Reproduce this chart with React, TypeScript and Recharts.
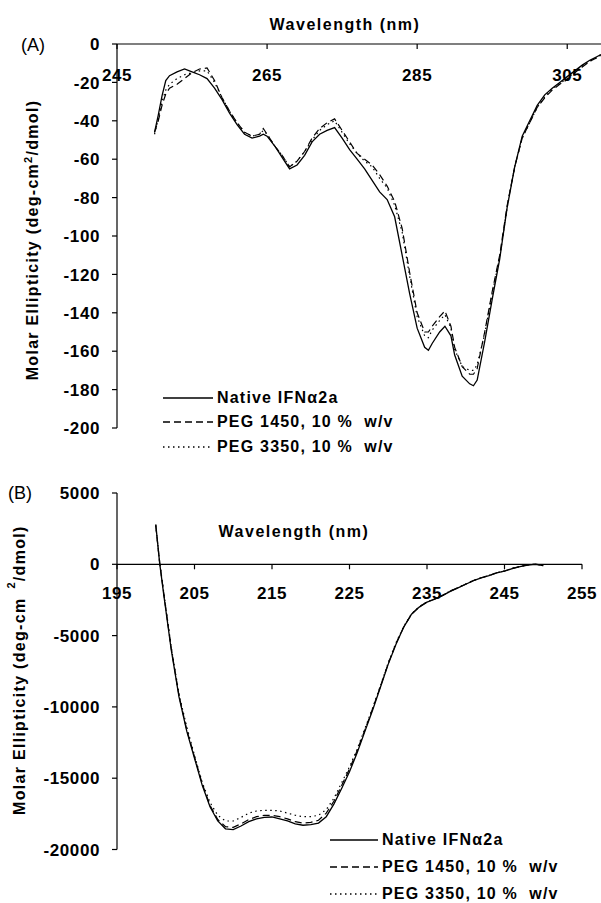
import { LineChart, Line, XAxis, YAxis, Legend, ReferenceLine, ReferenceDot, Label } from "recharts"

const FONT = '"Liberation Sans", Arial, Helvetica, sans-serif'

// (A) near-UV CD spectra
const waveA = [
  250, 250.5, 251, 251.5, 252, 253, 254, 255, 256, 257, 258, 259, 260, 261, 262, 263, 264, 264.5, 265,
  266, 267, 268, 269, 270, 271, 272, 273, 274, 275, 276, 277, 278, 279, 280, 281, 282, 283, 284, 285,
  286, 286.5, 287, 288, 288.7, 289.5, 290, 291, 292, 292.5, 293, 294, 295, 296, 297, 298, 299, 300,
  301, 302, 303, 304, 305, 306, 307, 308, 309, 309.5,
]
const nativeA = [
  -46, -37, -27, -19, -16.5, -14.5, -13, -14.5, -16, -18, -23, -29, -36, -42, -47, -49, -48, -47, -48,
  -53, -59, -65, -63, -58, -51, -47, -45, -43.5, -49, -55, -60, -65, -71, -77, -81, -90, -110, -130, -148,
  -158, -159.5, -156, -150, -147, -152, -162, -173, -177, -178, -175, -155, -133, -112, -85, -64, -48, -40,
  -32, -26.5, -23, -20, -17, -14, -11, -8.5, -6.5, -5.5,
]
const peg1450A = [
  -46, -40, -32, -26, -23, -21, -18, -15, -13, -12.5, -19, -28, -35, -41, -46, -48, -47, -44, -47,
  -53, -58, -64, -61, -56, -49, -44, -41, -39, -45, -51, -57, -60, -63, -68, -74, -82, -96, -119, -140,
  -150, -150, -147, -142, -139, -147, -158, -168, -172, -172, -169, -150, -129, -110, -84, -64, -49, -41,
  -33, -28, -24, -21, -18.5, -15, -12, -9, -7, -6,
]
const peg3350A = [
  -47, -39, -30, -24, -21, -18, -16, -15, -14, -14, -20, -28, -35, -41, -46, -48, -47, -45, -47,
  -53, -58, -64, -61, -56, -50, -45, -42, -40, -46, -52, -57, -61, -64, -70, -75, -84, -98, -121, -142,
  -152, -153, -149, -144, -141, -148, -159, -168, -170, -170, -167, -151, -130, -111, -85, -64, -49, -41,
  -33, -27.5, -23.5, -20.5, -18, -14.5, -11.5, -9, -7, -5.5,
]
const xTicksA = [245, 265, 285, 305]
const yTicksA = [0, -20, -40, -60, -80, -100, -120, -140, -160, -180, -200]

// (B) far-UV CD spectra
const waveB = [
  200, 200.5, 201, 202, 203, 204, 205, 206, 207, 208, 209, 210, 211, 212, 213, 214, 215, 216, 217, 218,
  219, 220, 221, 222, 223, 224, 225, 226, 227, 228, 229, 230, 231, 232, 233, 234, 235, 236, 237, 238,
  239, 240, 241, 242, 243, 244, 245, 246, 247, 248, 249, 250,
]
const nativeB = [
  2800, 100, -2000, -6000, -9300, -11700, -13600, -15500, -17000, -18000, -18550, -18600, -18350, -18050,
  -17850, -17750, -17720, -17850, -18000, -18200, -18300, -18250, -18150, -17700, -16800, -15700, -14550,
  -13200, -11700, -10200, -8600, -7000, -5600, -4400, -3500, -3000, -2650, -2450, -2200, -1900, -1650,
  -1400, -1150, -950, -800, -600, -480, -300, -170, -50, 0, -100,
]
const peg1450B = [
  2700, 150, -1900, -5900, -9200, -11600, -13500, -15400, -16900, -17900, -18400, -18450, -18200, -17900,
  -17700, -17600, -17600, -17700, -17850, -18050, -18150, -18100, -17950, -17450, -16600, -15500, -14350,
  -13050, -11600, -10100, -8550, -6950, -5550, -4400, -3500, -2980, -2640, -2430, -2180, -1880, -1640,
  -1390, -1140, -940, -790, -590, -470, -290, -160, -40, 20, -80,
]
const peg3350B = [
  2750, 200, -1850, -5800, -9100, -11400, -13400, -15300, -16700, -17600, -18000, -18000, -17750, -17450,
  -17300, -17250, -17250, -17300, -17450, -17600, -17700, -17700, -17600, -17200, -16400, -15300, -14200,
  -12950, -11500, -10050, -8500, -6900, -5500, -4350, -3480, -2970, -2630, -2420, -2170, -1870, -1630,
  -1380, -1130, -930, -780, -580, -460, -280, -150, -40, 10, -90,
]
const xTicksB = [195, 205, 215, 225, 235, 245, 255]
const yTicksB = [5000, 0, -5000, -10000, -15000, -20000]

const seriesNames = ["Native IFNα2a", "PEG 1450, 10 %  w/v", "PEG 3350, 10 %  w/v"]

const dataA = waveA.map((w, i) => ({ w, native: nativeA[i], peg1450: peg1450A[i], peg3350: peg3350A[i] }))
const dataB = waveB.map((w, i) => ({ w, native: nativeB[i], peg1450: peg1450B[i], peg3350: peg3350B[i] }))

const series = [
  { key: "native", name: seriesNames[0], dash: undefined },
  { key: "peg1450", name: seriesNames[1], dash: "7 4" },
  { key: "peg3350", name: seriesNames[2], dash: "1.5 3.5" },
]

const tickFont = { fontSize: 17, fontWeight: 700, fill: "#000", fontFamily: FONT, letterSpacing: 0.6 }
const textBold = { fontFamily: FONT, fontWeight: 700, fontSize: 16, letterSpacing: 1.3, fill: "#000" }

// bold tick labels (drawn by hand so the weight sticks)
function YTick(props: any) {
  const { x, y, payload } = props
  return (
    <text x={x} y={y} dy="0.36em" textAnchor="end" {...tickFont}>
      {payload.value}
    </text>
  )
}

function TopTick(props: any) {
  const { x, y, payload } = props
  return (
    <text x={x} y={y} dy="0.71em" textAnchor="middle" {...tickFont}>
      {payload.value}
    </text>
  )
}

function ZeroAxisTick(props: any) {
  const { cx, cy, value } = props
  return (
    <g>
      <line x1={cx} y1={cy} x2={cx} y2={cy + 5} stroke="#000" strokeWidth={1.2} />
      <text x={cx} y={cy + 35} textAnchor="middle" {...tickFont}>{value}</text>
    </g>
  )
}

function makeLegend(rowHeight: number, lineWidth: number) {
  return function LegendBox() {
    return (
      <div style={{ fontFamily: FONT, fontWeight: 700, fontSize: 16, letterSpacing: 1.2, color: "#000" }}>
        {series.map((s) => (
          <div key={s.key} style={{ display: "flex", alignItems: "center", height: rowHeight, whiteSpace: "pre" }}>
            <svg width={lineWidth} height={4} style={{ marginRight: 4 }}>
              <line x1={0} y1={2} x2={lineWidth} y2={2} stroke="#000" strokeWidth={1.3} strokeDasharray={s.dash} />
            </svg>
            <span>{s.name}</span>
          </div>
        ))}
      </div>
    )
  }
}

function TextsA() {
  return (
    <g>
      <text x={21} y={51} fontFamily={FONT} fontSize={18} fill="#000">(A)</text>
      <text x={345} y={30} textAnchor="middle" {...textBold} letterSpacing={1.5}>Wavelength (nm)</text>
      <text transform="translate(0,240) rotate(-90)" x={0} y={38} textAnchor="middle" {...textBold}>
        Molar Ellipticity (deg-cm<tspan dy={-6} fontSize={11}>2</tspan>
        <tspan dy={6}>/dmol)</tspan>
      </text>
    </g>
  )
}

function TextsB() {
  return (
    <g>
      <text x={8} y={29} fontFamily={FONT} fontSize={18} fill="#000">(B)</text>
      <text x={294} y={67} textAnchor="middle" {...textBold} letterSpacing={1.5}>Wavelength (nm)</text>
      <text transform="translate(0,345) rotate(-90)" x={0} y={25} textAnchor="start" {...textBold}>
        Molar Ellipticity (deg-cm<tspan dx={9} dy={-10} fontSize={11}>2</tspan>
        <tspan dy={10}>/dmol)</tspan>
      </text>
    </g>
  )
}

const LegendA = makeLegend(24.5, 50)
const LegendB = makeLegend(27, 48)

export default function App() {
  return (
    <div style={{ position: "absolute", left: 0, top: 0, width: 601, height: 903, background: "#fff" }}>
      <div style={{ position: "absolute", left: 0, top: 0 }}>
        <LineChart width={601} height={470} data={dataA} margin={{ top: 44, right: 0, bottom: 42, left: 0 }}>
          <XAxis
            dataKey="w"
            type="number"
            orientation="top"
            mirror
            domain={[245, 309.5]}
            ticks={xTicksA}
            interval={0}
            allowDataOverflow
            tickSize={5}
            tickMargin={20}
            tick={<TopTick />}
            axisLine={{ stroke: "#000", strokeWidth: 1.2 }}
            tickLine={{ stroke: "#000", strokeWidth: 1.2 }}
          />
          <YAxis
            type="number"
            domain={[-200, 0]}
            ticks={yTicksA}
            interval={0}
            allowDataOverflow
            width={117}
            tickSize={5}
            tickMargin={12}
            tick={<YTick />}
            axisLine={{ stroke: "#000", strokeWidth: 1.2 }}
            tickLine={{ stroke: "#000", strokeWidth: 1.2 }}
          >
            <Label content={() => <TextsA />} />
          </YAxis>
          {series.map((s) => (
            <Line
              key={s.key}
              dataKey={s.key}
              name={s.name}
              type="linear"
              stroke="#000"
              strokeWidth={s.dash ? 1.2 : 1.3}
              strokeDasharray={s.dash}
              dot={false}
              activeDot={false}
              isAnimationActive={false}
            />
          ))}
          <Legend
            layout="vertical"
            align="center"
            verticalAlign="middle"
            content={() => <LegendA />}
            wrapperStyle={{ left: 163, top: 385.5, width: 320 }}
          />
        </LineChart>
      </div>
      <div style={{ position: "absolute", left: 0, top: 470 }}>
        <LineChart width={601} height={433} data={dataB} margin={{ top: 23, right: 19, bottom: 53.5, left: 0 }}>
          <XAxis dataKey="w" type="number" domain={[195, 255]} hide />
          <YAxis
            type="number"
            domain={[-20000, 5000]}
            ticks={yTicksB}
            interval={0}
            allowDataOverflow
            width={117}
            tickSize={5}
            tickMargin={12}
            tick={<YTick />}
            axisLine={{ stroke: "#000", strokeWidth: 1.2 }}
            tickLine={{ stroke: "#000", strokeWidth: 1.2 }}
          >
            <Label content={() => <TextsB />} />
          </YAxis>
          <ReferenceLine y={0} stroke="#000" strokeWidth={1.2} />
          {xTicksB.map((t) => (
            <ReferenceDot key={t} x={t} y={0} r={0} shape={(p: any) => <ZeroAxisTick {...p} value={t} />} />
          ))}
          {series.map((s) => (
            <Line
              key={s.key}
              dataKey={s.key}
              name={s.name}
              type="linear"
              stroke="#000"
              strokeWidth={s.dash ? 1.2 : 1.3}
              strokeDasharray={s.dash}
              dot={false}
              activeDot={false}
              isAnimationActive={false}
            />
          ))}
          <Legend
            layout="vertical"
            align="center"
            verticalAlign="middle"
            content={() => <LegendB />}
            wrapperStyle={{ left: 330, top: 356.5, width: 260 }}
          />
        </LineChart>
      </div>
    </div>
  )
}
